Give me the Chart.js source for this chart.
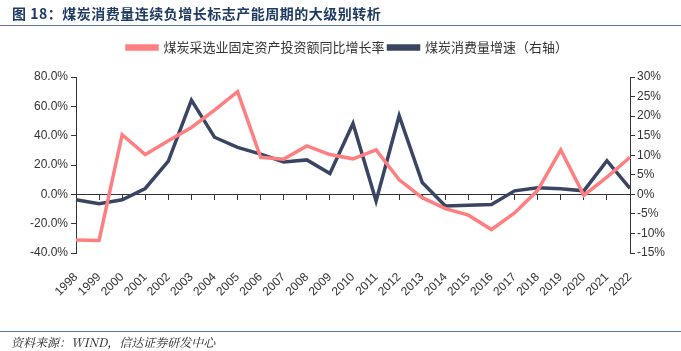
<!DOCTYPE html>
<html>

<head>
    <meta charset="utf-8">
    <title>煤炭消费量连续负增长</title>
    <script src="https://cdn.jsdelivr.net/npm/chart.js@4.4.1/dist/chart.umd.min.js"></script>
    <style>
        html,
        body {
            margin: 0;
            padding: 0;
            background: #fff;
        }

        #wrap {
            position: relative;
            width: 681px;
            height: 351px;
            overflow: hidden;
        }

        canvas {
            position: absolute;
            left: 0;
            top: 0;
        }

        .title {
            position: absolute;
            left: 12px;
            top: 3px;
            font: bold 14px "Noto Sans CJK SC", sans-serif;
            color: #1f3a63;
            letter-spacing: 0.5px;
        }

        .rule {
            position: absolute;
            left: 0;
            width: 681px;
            height: 1px;
            background: #5a78a3;
        }

        .source {
            position: absolute;
            left: 11px;
            top: 333px;
            font: italic 12px "Noto Serif CJK SC", "Noto Sans CJK SC", serif;
            color: #222;
        }
    </style>
</head>

<body>
<div id="wrap">
    <canvas id="chart" width="681" height="351"></canvas>
    <div class="title">图 18：煤炭消费量连续负增长标志产能周期的大级别转析</div>
    <div class="rule" style="top: 25px;"></div>
    <div class="rule" style="top: 331px;"></div>
    <div class="source">资料来源：WIND，信达证券研发中心</div>
</div>
<script>
    // 年份
    var years = ['1998', '1999', '2000', '2001', '2002', '2003', '2004', '2005', '2006', '2007', '2008', '2009',
        '2010', '2011', '2012', '2013', '2014', '2015', '2016', '2017', '2018', '2019', '2020', '2021', '2022']

    // 煤炭采选业固定资产投资额同比增长率 (%)，左轴
    var investGrowth = [-31.2, -31.4, 40.7, 27.1, 36.6, 45.6, 57.4, 70.0, 25.3, 24.0, 33.0, 27.1,
        24.2, 30.3, 9.9, -2.3, -9.7, -14.2, -24.0, -12.7, 2.7, 30.3, -0.7, 11.8, 25.3]

    // 煤炭消费量增速 (%)，右轴
    var consumeGrowth = [-1.4, -2.4, -1.4, 1.5, 8.5, 24.1, 14.6, 12.0, 10.3, 8.3, 8.8, 5.3,
        18.1, -1.7, 20.1, 3.0, -3.0, -2.8, -2.6, 0.9, 1.7, 1.4, 0.9, 8.6, 1.5]

    var pink = '#ff7f80'
    var navy = '#3a4563'
    var axisColor = '#333'
    var tickFont = {family: 'Arial, "Liberation Sans", sans-serif', size: 12}

    // 图例下移一点、右移一点，与原图对齐
    var legendNudge = {
        id: 'legendNudge',
        beforeInit: function (chart) {
            var legend = chart.legend
            var origFit = legend.fit
            legend.fit = function () {
                origFit.call(this)
                this.height += 13
            }
        },
        afterLayout: function (chart) {
            chart.legend.left += 7
            chart.legend.right += 7
        }
    }

    var options = {
        type: 'line',
        data: {
            labels: years,
            datasets: [{
                label: '煤炭采选业固定资产投资额同比增长率',
                data: investGrowth,
                borderColor: pink,
                backgroundColor: pink,
                borderWidth: 3.5,
                pointRadius: 0,
                tension: 0,
                yAxisID: 'y'
            }, {
                label: '煤炭消费量增速（右轴）',
                data: consumeGrowth,
                borderColor: navy,
                backgroundColor: navy,
                borderWidth: 3.5,
                pointRadius: 0,
                tension: 0,
                yAxisID: 'y1'
            }]
        },
        plugins: [legendNudge],
        options: {
            responsive: false,
            animation: false,
            layout: {
                padding: {left: 0, right: 0, top: 37, bottom: 0}
            },
            scales: {
                x: {
                    type: 'category',
                    offset: false,
                    border: {display: false},
                    grid: {display: false},
                    ticks: {
                        color: axisColor,
                        font: tickFont,
                        minRotation: 45,
                        maxRotation: 45,
                        padding: 9,
                        autoSkip: false
                    },
                    afterFit: function (scale) {
                        scale.height = 98
                    }
                },
                // 零线上的横轴与刻度
                x0: {
                    type: 'category',
                    offset: false,
                    position: {y: 0},
                    border: {display: true, color: axisColor, width: 1},
                    grid: {
                        display: true,
                        drawOnChartArea: false,
                        drawTicks: true,
                        tickLength: 5,
                        color: axisColor
                    },
                    ticks: {display: false}
                },
                y: {
                    position: 'left',
                    min: -40,
                    max: 80,
                    border: {display: true, color: axisColor, width: 1},
                    grid: {
                        display: true,
                        drawOnChartArea: false,
                        drawTicks: true,
                        tickLength: 5,
                        color: axisColor
                    },
                    ticks: {
                        stepSize: 20,
                        color: axisColor,
                        font: tickFont,
                        padding: 3,
                        callback: function (v) {
                            return v.toFixed(1) + '%'
                        }
                    },
                    afterFit: function (scale) {
                        scale.width = 76
                    }
                },
                y1: {
                    position: 'right',
                    min: -15,
                    max: 30,
                    border: {display: true, color: axisColor, width: 1},
                    grid: {
                        display: true,
                        drawOnChartArea: false,
                        drawTicks: true,
                        tickLength: 5,
                        color: axisColor
                    },
                    ticks: {
                        stepSize: 5,
                        color: axisColor,
                        font: tickFont,
                        padding: 2,
                        callback: function (v) {
                            return v + '%'
                        }
                    },
                    afterFit: function (scale) {
                        scale.width = 51
                    }
                }
            },
            plugins: {
                legend: {
                    display: true,
                    position: 'top',
                    labels: {
                        boxWidth: 30,
                        boxHeight: 3,
                        color: '#333',
                        font: {family: '"Noto Sans CJK SC", sans-serif', size: 13},
                        padding: 4
                    }
                },
                tooltip: {enabled: false}
            }
        }
    }

    var ctx = document.getElementById('chart').getContext('2d')
    window.chart = new Chart(ctx, options)
</script>
</body>

</html>
